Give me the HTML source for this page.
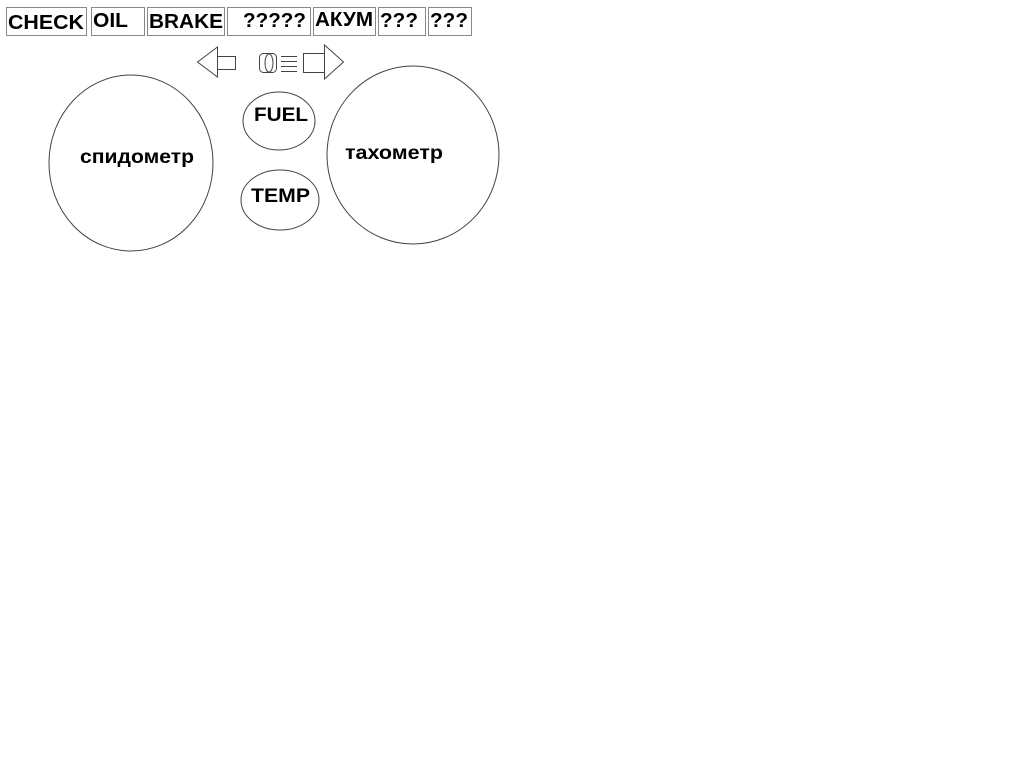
<!DOCTYPE html>
<html><head><meta charset="utf-8"><style>
body{margin:0;background:#fff;width:1024px;height:768px;overflow:hidden}
svg{position:absolute;left:0;top:0}
text{font-family:"Liberation Sans",sans-serif;font-weight:bold;fill:#000}
</style></head><body>
<svg width="1024" height="768" viewBox="0 0 1024 768">
<g fill="none" stroke="#888" stroke-width="1">
<rect x="6.5" y="7.5" width="80" height="28"/>
<rect x="91.5" y="7.5" width="53" height="28"/>
<rect x="147.5" y="7.5" width="77" height="28"/>
<rect x="227.5" y="7.5" width="83" height="28"/>
<rect x="313.5" y="7.5" width="62" height="28"/>
<rect x="378.5" y="7.5" width="47" height="28"/>
<rect x="428.5" y="7.5" width="43" height="28"/>
</g>
<g font-size="20">
<text x="8" y="29" textLength="76" lengthAdjust="spacingAndGlyphs">CHECK</text>
<text x="93" y="27" textLength="35" lengthAdjust="spacingAndGlyphs">OIL</text>
<text x="149" y="28" textLength="74" lengthAdjust="spacingAndGlyphs">BRAKE</text>
<text x="243" y="27" textLength="63" lengthAdjust="spacingAndGlyphs">?????</text>
<text x="315" y="26" textLength="58" lengthAdjust="spacingAndGlyphs">AКУМ</text>
<text x="380" y="27" textLength="38" lengthAdjust="spacingAndGlyphs">???</text>
<text x="430" y="27" textLength="38" lengthAdjust="spacingAndGlyphs">???</text>
</g>
<g fill="none" stroke="#444" stroke-width="1">
<polygon points="197.5,62 217.5,47 217.5,77"/>
<rect x="217.5" y="56.5" width="18" height="13"/>
<rect x="259.5" y="53.5" width="17" height="19" rx="4"/>
<ellipse cx="269" cy="63" rx="4" ry="9"/>
<line x1="281" y1="56.5" x2="297" y2="56.5"/>
<line x1="281" y1="61.5" x2="297" y2="61.5"/>
<line x1="281" y1="66.5" x2="297" y2="66.5"/>
<line x1="281" y1="71.5" x2="297" y2="71.5"/>
<rect x="303.5" y="53.5" width="21" height="19"/>
<polygon points="324.5,45 343.5,62 324.5,79"/>
<ellipse cx="131" cy="163" rx="82" ry="88"/>
<ellipse cx="279" cy="121" rx="36" ry="29"/>
<ellipse cx="280" cy="200" rx="39" ry="30"/>
<ellipse cx="413" cy="155" rx="86" ry="89"/>
</g>
<text x="80" y="163" font-size="19" textLength="114" lengthAdjust="spacingAndGlyphs">спидометр</text>
<text x="254" y="121" font-size="19" textLength="54" lengthAdjust="spacingAndGlyphs">FUEL</text>
<text x="251" y="202" font-size="19" textLength="59" lengthAdjust="spacingAndGlyphs">TEMP</text>
<text x="345" y="159" font-size="19" textLength="98" lengthAdjust="spacingAndGlyphs">тахометр</text>
</svg>
</body></html>
